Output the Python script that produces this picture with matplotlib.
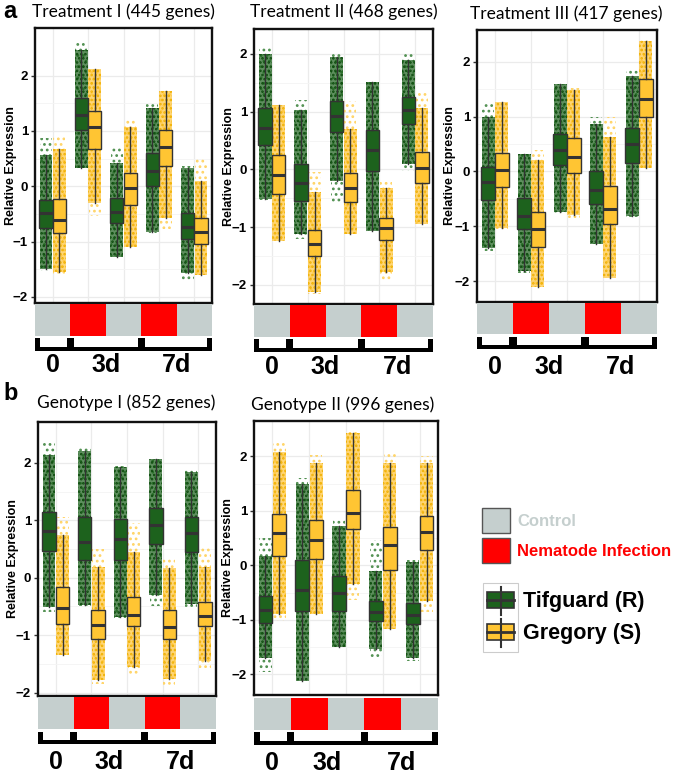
import matplotlib
matplotlib.use("Agg")
import matplotlib.pyplot as plt
from matplotlib.patches import Rectangle
from matplotlib.transforms import blended_transform_factory

W, H = 675, 776

GROUPS = [1, 2, 3, 4, 5]
STRIP_COLORS = ["#c5cfce", "#ff0000", "#c5cfce", "#ff0000", "#c5cfce"]
TIME_LABELS = ["0", "3d", "7d"]
TIME_POS = [1.0, 2.5, 4.5]
BRACKET_MARKS = [0.5, 1.5, 3.5, 5.5]
YTICKS = [-2, -1, 0, 1, 2]

# one row per group: whisker low, q1, median, q3, whisker high, lowest point, highest point
TRT1_TIF = [[-1.50, -0.75, -0.49, -0.24, 0.57, -1.54, 0.87],
            [0.33, 1.01, 1.28, 1.60, 2.46, 0.29, 2.60],
            [-1.28, -0.66, -0.46, -0.21, 0.42, -1.30, 0.72],
            [-0.83, 0.00, 0.27, 0.60, 1.42, -0.84, 1.50],
            [-1.57, -0.95, -0.73, -0.49, 0.33, -1.70, 0.36]]
TRT1_GRE = [[-1.55, -0.84, -0.61, -0.23, 0.67, -1.60, 0.90],
            [-0.30, 0.67, 1.07, 1.36, 2.11, -0.54, 2.11],
            [-1.10, -0.33, -0.04, 0.24, 1.07, -1.12, 1.20],
            [-0.57, 0.36, 0.71, 1.02, 1.72, -0.78, 1.73],
            [-1.61, -1.04, -0.83, -0.57, 0.09, -1.62, 0.50]]

TRT2_TIF = [[-0.51, 0.42, 0.72, 1.06, 1.99, -0.53, 2.10],
            [-1.11, -0.54, -0.24, 0.09, 1.02, -1.20, 1.20],
            [-0.20, 0.64, 0.93, 1.18, 1.95, -0.57, 2.00],
            [-1.06, -0.03, 0.34, 0.68, 1.51, -1.08, 1.55],
            [0.09, 0.79, 1.02, 1.26, 1.90, -0.02, 2.00]]
TRT2_GRE = [[-1.24, -0.43, -0.10, 0.25, 1.11, -1.26, 1.12],
            [-2.12, -1.50, -1.29, -1.05, -0.40, -2.15, -0.05],
            [-1.11, -0.57, -0.33, -0.06, 0.70, -1.12, 1.18],
            [-1.78, -1.22, -1.02, -0.85, -0.32, -1.92, -0.22],
            [-0.94, -0.24, 0.02, 0.30, 1.07, -0.95, 1.36]]

TRT3_TIF = [[-1.40, -0.52, -0.20, 0.09, 0.99, -1.45, 1.25],
            [-1.82, -1.04, -0.81, -0.49, 0.32, -1.85, 0.35],
            [-0.73, 0.11, 0.40, 0.68, 1.59, -0.75, 1.60],
            [-1.32, -0.59, -0.34, 0.01, 0.87, -1.33, 0.99],
            [-0.81, 0.15, 0.50, 0.79, 1.75, -0.83, 1.86]]
TRT3_GRE = [[-1.03, -0.29, 0.03, 0.34, 1.26, -1.05, 1.10],
            [-2.10, -1.38, -1.05, -0.73, 0.21, -2.10, 0.40],
            [-0.80, -0.02, 0.27, 0.61, 1.49, -0.85, 1.52],
            [-1.94, -0.96, -0.69, -0.26, 0.62, -1.70, 1.00],
            [0.07, 1.00, 1.32, 1.68, 2.38, 0.04, 2.40]]

GEN1_TIF = [[-0.51, 0.47, 0.81, 1.15, 2.14, -0.60, 2.34],
            [-0.48, 0.30, 0.62, 1.06, 2.20, -0.50, 2.30],
            [-0.69, 0.30, 0.67, 1.02, 1.92, -0.70, 1.95],
            [-0.31, 0.58, 0.91, 1.22, 2.06, -0.50, 2.09],
            [-0.45, 0.45, 0.78, 1.05, 1.84, -0.55, 1.87]]
GEN1_GRE = [[-1.35, -0.81, -0.53, -0.16, 0.74, -1.35, 1.05],
            [-1.78, -1.06, -0.83, -0.56, 0.19, -1.85, 0.50],
            [-1.55, -0.85, -0.65, -0.33, 0.44, -1.67, 0.95],
            [-1.77, -1.06, -0.86, -0.56, 0.16, -1.87, 0.35],
            [-1.45, -0.85, -0.66, -0.43, 0.19, -1.58, 0.55]]

GEN2_TIF = [[-1.70, -1.06, -0.82, -0.57, 0.18, -1.95, 0.50],
            [-2.13, -0.84, -0.45, 0.10, 1.49, -1.80, 1.60],
            [-1.50, -0.84, -0.51, -0.19, 0.72, -1.52, 0.86],
            [-1.54, -1.02, -0.85, -0.65, -0.10, -1.70, 0.46],
            [-1.70, -1.08, -0.92, -0.70, 0.06, -1.75, 0.10]]
GEN2_GRE = [[-0.89, 0.18, 0.60, 0.94, 2.08, -1.03, 2.24],
            [-0.89, 0.12, 0.46, 0.84, 1.87, -0.90, 2.02],
            [-0.35, 0.66, 0.97, 1.38, 2.43, -0.63, 2.45],
            [-1.16, -0.09, 0.37, 0.71, 1.87, -1.17, 2.04],
            [-0.66, 0.28, 0.61, 0.90, 1.87, -0.85, 2.00]]

TIF_COLORS = {"cloud": "#4f8f4f", "dense": "#1a601a", "dots": "#0b4a0b", "fill": "#1d621d"}
GRE_COLORS = {"cloud": "#ffd466", "dense": "#ffc53a", "dots": "#f0b000", "fill": "#ffc533"}
EDGE = "#333333"

ARIAL = ["Liberation Sans", "DejaVu Sans"]
CALIBRI = ["Lato", "DejaVu Sans"]

plt.rcParams["hatch.linewidth"] = 1.2


def px_axes(fig, left, top, right, bottom):
    return fig.add_axes([left / W, 1 - bottom / H, (right - left) / W, (bottom - top) / H])


def draw_panel(fig, title, tif, gre, plot_px, ylim, strip_px, bracket_px, label_y, title_x, title_y, ylabel_x):
    ax = px_axes(fig, *plot_px)
    ax.set_xlim(0.5, 5.5)
    ax.set_ylim(*ylim)
    ax.set_yticks(YTICKS)
    ax.set_yticks([-1.5, -0.5, 0.5, 1.5], minor=True)
    ax.set_xticks(GROUPS)
    ax.set_xticklabels([])
    ax.tick_params(axis="x", length=0)
    ax.tick_params(axis="y", which="major", length=3, width=1, pad=2, color="#333333")
    ax.tick_params(which="minor", length=0)
    for lab in ax.get_yticklabels():
        lab.set_fontfamily(ARIAL)
        lab.set_fontweight("bold")
        lab.set_fontsize(9.5)
    ax.grid(True, which="major", color="#ebebeb", lw=0.9)
    ax.grid(True, which="minor", axis="y", color="#f4f4f4", lw=0.6)
    ax.set_axisbelow(True)
    for s in ax.spines.values():
        s.set_linewidth(1.7)
        s.set_color("#111111")

    for stats, off, col in ((tif, -0.19, TIF_COLORS), (gre, 0.19, GRE_COLORS)):
        pos = [g + off for g in GROUPS]
        lo = [s[5] for s in stats]
        hi = [s[6] for s in stats]
        # sparse jittered points beyond the whiskers
        ax.bar(pos, [h - l for h, l in zip(hi, lo)], bottom=lo, width=0.34,
               facecolor="none", edgecolor=col["cloud"], hatch="...", lw=0, zorder=2)
        wl = [s[0] for s in stats]
        wh = [s[4] for s in stats]
        # dense jittered points within the whiskers
        ax.bar(pos, [h - l for h, l in zip(wh, wl)], bottom=wl, width=0.36,
               facecolor=col["dense"], alpha=0.7, lw=0, zorder=2)
        ax.bar(pos, [h - l for h, l in zip(wh, wl)], bottom=wl, width=0.36,
               facecolor="none", edgecolor=col["dots"], hatch="....", lw=0, zorder=2)
        bstats = [dict(whislo=s[0], q1=s[1], med=s[2], q3=s[3], whishi=s[4], fliers=[]) for s in stats]
        ax.bxp(bstats, positions=pos, widths=0.375, patch_artist=True, showcaps=False,
               manage_ticks=False, zorder=3,
               boxprops=dict(facecolor=col["fill"], edgecolor=EDGE, lw=1.0),
               medianprops=dict(color=EDGE, lw=2.2, solid_capstyle="butt"),
               whiskerprops=dict(color=EDGE, lw=1.0))

    sx = px_axes(fig, *strip_px)
    sx.bar(GROUPS, [1] * 5, width=1.0, color=STRIP_COLORS, lw=0)
    sx.set_xlim(0.5, 5.5)
    sx.set_ylim(0, 1)
    sx.axis("off")

    bx = px_axes(fig, *bracket_px)
    bx.set_xlim(0.5, 5.5)
    bx.set_ylim(0, 1)
    bx.axis("off")
    bx.axhspan(0, 0.32, color="black", lw=0)
    for m in BRACKET_MARKS:
        left = min(max(m - 0.1, 0.5), 5.5 - 0.15)
        bx.add_patch(Rectangle((left, 0), 0.15 if m in (0.5, 5.5) else 0.2, 1, color="black", lw=0))
    tr = blended_transform_factory(bx.transData, fig.transFigure)
    for x, lab in zip(TIME_POS, TIME_LABELS):
        bx.text(x, 1 - label_y / H, lab, transform=tr, ha="center", va="center",
                fontsize=18, fontweight="bold", family=ARIAL, clip_on=False)

    fig.text(title_x / W, 1 - title_y / H, title, ha="center", va="center",
             fontsize=12.5, family=CALIBRI)
    fig.text(ylabel_x / W, 1 - (plot_px[1] + plot_px[3]) / 2 / H, "Relative Expression",
             rotation=90, ha="center", va="center", fontsize=9, fontweight="bold", family=ARIAL)


fig = plt.figure(figsize=(W / 100, H / 100), dpi=100)
fig.patch.set_facecolor("white")

draw_panel(fig, "Treatment I (445 genes)", TRT1_TIF, TRT1_GRE,
           (35, 28, 212, 303), (-2.11, 2.86), (35, 304, 212, 336), (35, 338, 212, 351), 365, 123, 12, 11)
draw_panel(fig, "Treatment II (468 genes)", TRT2_TIF, TRT2_GRE,
           (254, 29, 433, 304), (-2.33, 2.43), (254, 305, 433, 337), (254, 339, 433, 352), 367, 344, 12, 229)
draw_panel(fig, "Treatment III (417 genes)", TRT3_TIF, TRT3_GRE,
           (477, 30, 657, 302), (-2.38, 2.58), (477, 303, 657, 334), (477, 337, 657, 349), 367, 566, 14, 450)
draw_panel(fig, "Genotype I (852 genes)", GEN1_TIF, GEN1_GRE,
           (38, 422, 216, 696), (-2.06, 2.71), (38, 697, 216, 729), (38, 732, 216, 744), 762, 126, 403, 13)
draw_panel(fig, "Genotype II (996 genes)", GEN2_TIF, GEN2_GRE,
           (254, 421, 438, 695), (-2.38, 2.65), (254, 698, 438, 730), (254, 732, 438, 745), 763, 343, 405, 228)

fig.text(3 / W, 1 - 12 / H, "a", fontsize=17, fontweight="bold", family=ARIAL, va="center")
fig.text(3 / W, 1 - 394 / H, "b", fontsize=17, fontweight="bold", family=ARIAL, va="center")

# legend
lg = px_axes(fig, 460, 480, 675, 680)
lg.set_xlim(460, 675)
lg.set_ylim(680, 480)
lg.axis("off")
lg.add_patch(Rectangle((482, 508), 28, 25, facecolor="#c5cfce", edgecolor="#555555", lw=1))
lg.add_patch(Rectangle((482, 538), 28, 25, facecolor="#ff0000", edgecolor="#555555", lw=1))
lg.text(517, 521, "Control", color="#c5cfce", fontsize=12, fontweight="bold", family=ARIAL, va="center")
lg.text(517, 551, "Nematode Infection", color="#ff0000", fontsize=12, fontweight="bold", family=ARIAL, va="center")
lg.add_patch(Rectangle((483, 583), 35, 69, facecolor="none", edgecolor="#cccccc", lw=0.8))
for (wt, wb, bt, bb, med), col in (((587, 615, 592, 608, 600), TIF_COLORS), ((619, 647, 624, 640, 632), GRE_COLORS)):
    lg.plot([500.5, 500.5], [wt, wb], color=EDGE, lw=1.5)
    lg.add_patch(Rectangle((487, bt), 27, bb - bt, facecolor=col["fill"], edgecolor=EDGE, lw=1.2))
    lg.plot([487, 514], [med, med], color=EDGE, lw=2)
lg.text(523, 602, "Tifguard (R)", fontsize=15.5, fontweight="bold", family=ARIAL, va="center")
lg.text(523, 634, "Gregory (S)", fontsize=15.5, fontweight="bold", family=ARIAL, va="center")

fig.savefig("out.png", dpi=100)
